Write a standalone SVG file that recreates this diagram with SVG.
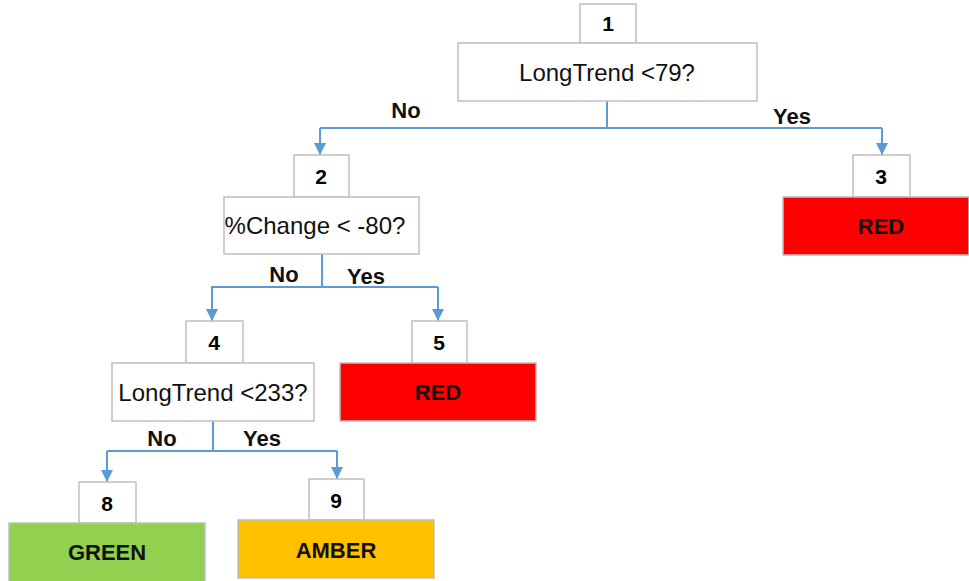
<svg xmlns="http://www.w3.org/2000/svg" width="969" height="581" viewBox="0 0 969 581">
  <style>
    .box { fill: #ffffff; stroke: #bfbfbf; stroke-width: 1.5; }
    .red { fill: #ff0000; stroke: #bfbfbf; stroke-width: 1.5; }
    .green { fill: #92d050; stroke: #bfbfbf; stroke-width: 1.5; }
    .amber { fill: #ffc000; stroke: #bfbfbf; stroke-width: 1.5; }
    .num { font-family: "Liberation Sans", Arial, sans-serif; font-weight: bold; font-size: 21px; fill: #000; text-anchor: middle; }
    .q { font-family: "Liberation Sans", Arial, sans-serif; font-size: 24px; fill: #111; text-anchor: middle; }
    .leaf { font-family: "Liberation Sans", Arial, sans-serif; font-weight: bold; font-size: 22px; fill: #111; text-anchor: middle; }
    .lbl { font-family: "Liberation Sans", Arial, sans-serif; font-weight: bold; font-size: 22px; fill: #111; text-anchor: middle; }
    .edge { fill: none; stroke: #5b9bd5; stroke-width: 2; }
  </style>
  <defs>
    <marker id="arrow" viewBox="0 0 12 12" refX="12" refY="6" markerWidth="12" markerHeight="12" markerUnits="userSpaceOnUse" orient="auto">
      <path d="M0,0 L12,6 L0,12 Z" fill="#5b9bd5"/>
    </marker>
  </defs>

  <g id="connectors">
    <path class="edge" d="M607,101 V128 M320,128 H882" />
    <path class="edge" d="M320,128 V155" marker-end="url(#arrow)"/>
    <path class="edge" d="M882,128 V155" marker-end="url(#arrow)"/>
    <path class="edge" d="M322,254 V287 M211,287 H438" />
    <path class="edge" d="M212,287 V321" marker-end="url(#arrow)"/>
    <path class="edge" d="M438,287 V321" marker-end="url(#arrow)"/>
    <path class="edge" d="M213,421 V451 M107,451 H337" />
    <path class="edge" d="M107,451 V482" marker-end="url(#arrow)"/>
    <path class="edge" d="M337,451 V479" marker-end="url(#arrow)"/>
    <text class="lbl" x="406" y="118">No</text>
    <text class="lbl" x="792" y="124">Yes</text>
    <text class="lbl" x="284" y="282">No</text>
    <text class="lbl" x="366" y="284">Yes</text>
    <text class="lbl" x="162" y="446">No</text>
    <text class="lbl" x="262" y="446">Yes</text>
  </g>

  <g id="node1">
    <rect class="box" x="580" y="4" width="56" height="39"/>
    <text class="num" x="608" y="31">1</text>
    <rect class="box" x="458" y="43" width="299" height="58"/>
    <text class="q" x="607" y="81">LongTrend &lt;79?</text>
  </g>

  <g id="node2">
    <rect class="box" x="294" y="155" width="55" height="42"/>
    <text class="num" x="321" y="184">2</text>
    <rect class="box" x="224" y="197" width="195" height="57"/>
    <text class="q" x="315" y="234">%Change &lt; -80?</text>
  </g>

  <g id="node3">
    <rect class="box" x="853" y="155" width="57" height="42"/>
    <text class="num" x="881" y="184">3</text>
    <rect class="red" x="783" y="197" width="186" height="58"/>
    <text class="leaf" x="881" y="234">RED</text>
  </g>

  <g id="node4">
    <rect class="box" x="186" y="321" width="57" height="42"/>
    <text class="num" x="214" y="350">4</text>
    <rect class="box" x="112" y="363" width="202" height="58"/>
    <text class="q" x="213" y="401">LongTrend &lt;233?</text>
  </g>

  <g id="node5">
    <rect class="box" x="412" y="321" width="55" height="42"/>
    <text class="num" x="439" y="350">5</text>
    <rect class="red" x="340" y="363" width="196" height="58"/>
    <text class="leaf" x="438" y="400">RED</text>
  </g>

  <g id="node8">
    <rect class="box" x="79" y="482" width="57" height="41"/>
    <text class="num" x="107" y="511">8</text>
    <rect class="green" x="9" y="523" width="196" height="60"/>
    <text class="leaf" x="107" y="560">GREEN</text>
  </g>

  <g id="node9">
    <rect class="box" x="309" y="479" width="55" height="41"/>
    <text class="num" x="336" y="508">9</text>
    <rect class="amber" x="238" y="520" width="196" height="58"/>
    <text class="leaf" x="336" y="558">AMBER</text>
  </g>
</svg>
